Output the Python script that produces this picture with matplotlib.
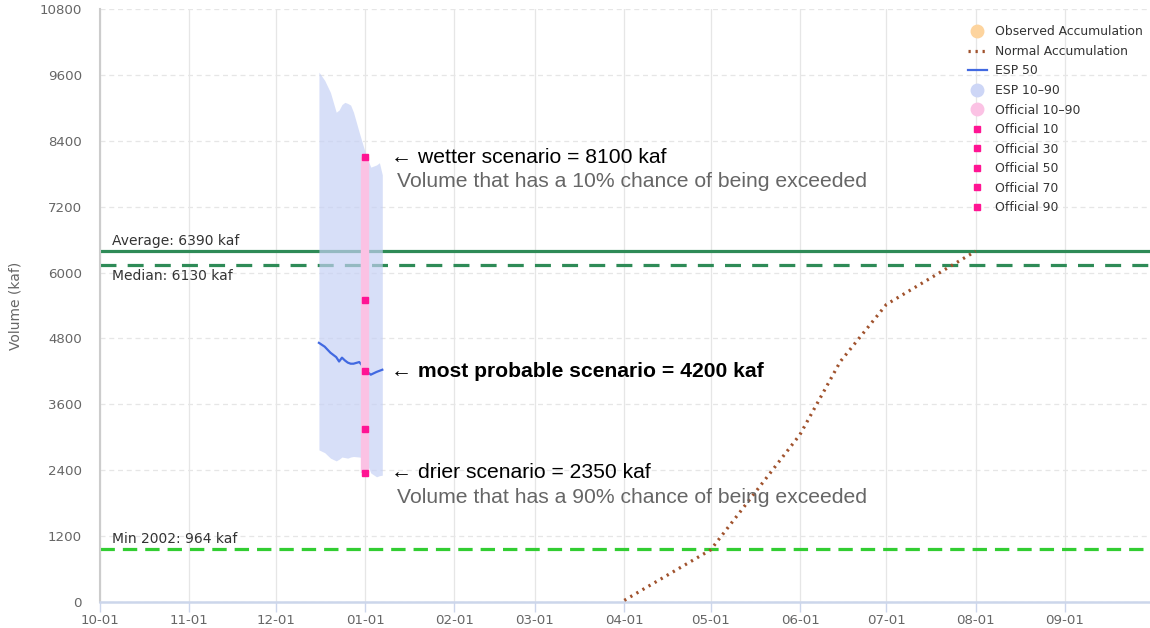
import numpy as np
import matplotlib.pyplot as plt
import matplotlib.dates as mdates
from datetime import datetime

# --- data ---
esp_dates = ["2022-12-16", "2022-12-18", "2022-12-20", "2022-12-22", "2022-12-23",
             "2022-12-24", "2022-12-25", "2022-12-26", "2022-12-27", "2022-12-28",
             "2022-12-30", "2023-01-01", "2023-01-02", "2023-01-03", "2023-01-05",
             "2023-01-06", "2023-01-07"]
esp_10 = [9650, 9500, 9280, 8920, 8960, 9060, 9100, 9080, 9050, 8920,
          8550, 8200, 8050, 7920, 7960, 8000, 7780]
esp_90 = [2770, 2720, 2620, 2570, 2600, 2640, 2630, 2620, 2640, 2650,
          2640, 2620, 2480, 2350, 2280, 2300, 2310]
esp_50 = [4720, 4650, 4540, 4460, 4380, 4450, 4400, 4360, 4340, 4340,
          4370, 4250, 4180, 4140, 4190, 4210, 4230]

official_date = "2023-01-01"
official_labels = ["Official 10", "Official 30", "Official 50", "Official 70", "Official 90"]
official_values = [8100, 5500, 4200, 3150, 2350]

normal_dates = ["2023-04-01", "2023-05-01", "2023-06-01", "2023-06-15", "2023-07-01", "2023-08-01"]
normal_values = [30, 950, 3050, 4380, 5420, 6390]

observed_dates = []
observed_values = []

average_val = 6390
median_val = 6130
min_val = 964

yticks = [0, 1200, 2400, 3600, 4800, 6000, 7200, 8400, 9600, 10800]

def d(s):
    return datetime.strptime(s, "%Y-%m-%d")

esp_x = [d(s) for s in esp_dates]
off_x = d(official_date)

fig = plt.figure(figsize=(11.5, 6.28), dpi=100)
ax = fig.add_axes([100/1150, 26/628, 1050/1150, 593/628])

# reference lines
ax.axhline(average_val, color='#2e8b57', lw=2.3, zorder=2)
ax.axhline(median_val, color='#2e8b57', lw=2.3, ls=(0, (5, 3.5)), zorder=2)
ax.axhline(min_val, color='#32cd32', lw=2.3, ls=(0, (4.5, 2.5)), zorder=2)

lab_x = d("2022-10-05")
ax.annotate("Average: %d kaf" % average_val, (lab_x, average_val), xytext=(0, 2.5),
            textcoords='offset points', va='bottom', fontsize=10, color='#333333')
ax.annotate("Median: %d kaf" % median_val, (lab_x, median_val), xytext=(0, -2.5),
            textcoords='offset points', va='top', fontsize=10, color='#333333')
ax.annotate("Min 2002: %d kaf" % min_val, (lab_x, min_val), xytext=(0, 2.5),
            textcoords='offset points', va='bottom', fontsize=10, color='#333333')

# series
ax.plot([d(s) for s in observed_dates], observed_values, 'o', color='#fdd49e',
        ms=9, label='Observed Accumulation')
ax.plot([d(s) for s in normal_dates], normal_values, color='#a0522d', lw=2.3,
        ls=(0, (0.7, 1.5)), label='Normal Accumulation', zorder=3)
ax.plot(esp_x, esp_50, color='#4169e1', lw=1.6, label='ESP 50', zorder=4)
ax.fill_between(esp_x, esp_90, esp_10, color='#c5d0f5', alpha=0.68, lw=0, zorder=3)
ax.plot([], [], 'o', color='#cdd6f6', ms=9, label='ESP 10\u201390')
ax.vlines(off_x, min(official_values), max(official_values), color='#fbc2e4',
          lw=6, zorder=5)
ax.plot([], [], 'o', color='#fbc2e4', ms=9, label='Official 10\u201390')
for lab, v in zip(official_labels, official_values):
    ax.plot([off_x], [v], 's', color='#ff1493', ms=5, label=lab, zorder=6)

# annotations
ann_font = ['Liberation Sans', 'DejaVu Sans']
tx = d("2023-01-10")
tx2 = d("2023-01-12")
fs = 15.2
ax.text(tx, official_values[0], "\u2190 wetter scenario = 8100 kaf", fontsize=fs,
        family=ann_font, va='center', color='black')
ax.text(tx2, official_values[0] - 450, "Volume that has a 10% chance of being exceeded",
        fontsize=fs, family=ann_font, va='center', color='#666666')
ax.text(tx, official_values[2], "\u2190 most probable scenario = 4200 kaf", fontsize=fs,
        family=ann_font, va='center', color='black', fontweight='bold')
ax.text(tx, official_values[4], "\u2190 drier scenario = 2350 kaf", fontsize=fs,
        family=ann_font, va='center', color='black')
ax.text(tx2, official_values[4] - 450, "Volume that has a 90% chance of being exceeded",
        fontsize=fs, family=ann_font, va='center', color='#666666')

# axes styling
ax.set_xlim(d("2022-10-01"), datetime(2023, 9, 30, 12))
ax.set_ylim(0, 10800)
ax.set_yticks(yticks)
ax.xaxis.set_major_locator(mdates.MonthLocator())
ax.xaxis.set_major_formatter(mdates.DateFormatter('%m-%d'))
ax.grid(axis='y', color='#e6e6e6', ls=(0, (4, 3)), lw=0.9, zorder=0)
ax.grid(axis='x', color='#e6e6e6', lw=0.9, zorder=0)
ax.set_axisbelow(True)
for s in ['top', 'right']:
    ax.spines[s].set_visible(False)
ax.spines['left'].set_color('#cccccc')
ax.spines['left'].set_linewidth(1.5)
ax.spines['bottom'].set_color('#ccd6eb')
ax.spines['bottom'].set_linewidth(1.8)
ax.tick_params(axis='y', length=0, pad=13, labelsize=9.6, labelcolor='#666666')
ax.tick_params(axis='x', length=7, width=1, color='#ccd6eb', pad=2, labelsize=9.6,
               labelcolor='#666666')
ax.set_ylabel("Volume (kaf)", fontsize=10, color='#666666', labelpad=12)

leg = ax.legend(loc='upper right', bbox_to_anchor=(1.0, 0.985), frameon=False,
                fontsize=8.9, handlelength=1.6, handletextpad=0.6, labelspacing=0.53,
                borderaxespad=0.2)
for t in leg.get_texts():
    t.set_color('#333333')

fig.savefig("out.png", dpi=100)
